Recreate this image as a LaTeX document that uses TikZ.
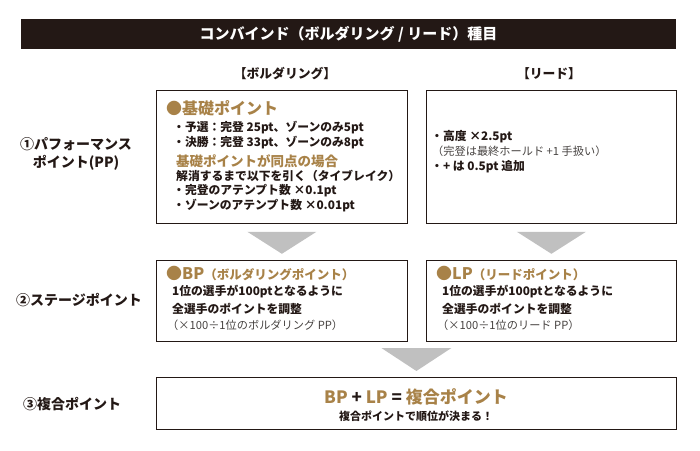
\documentclass[tikz,border=0pt]{standalone}
\usepackage{fontspec}
\setmainfont{Noto Sans CJK JP}
\usetikzlibrary{calc}
\usepackage{xcolor}
\definecolor{barbg}{HTML}{231815}
\definecolor{ink}{HTML}{231815}
\definecolor{gold}{RGB}{168,130,72}
\definecolor{softink}{RGB}{70,66,64}
\definecolor{arrowgray}{RGB}{192,192,192}
\newcommand{\pxsize}[2]{\fontsize{#1}{#2}\selectfont}

\begin{document}
\begin{tikzpicture}[x=1pt,y=-1pt,
    box/.style={draw=ink,line width=0.8pt,anchor=north west,inner sep=0pt},
    txt/.style={anchor=west,inner sep=0pt,text=ink,font=\bfseries\pxsize{11.8}{14}},
    soft/.style={anchor=west,inner sep=0pt,text=softink,font=\pxsize{11.2}{14}},
    gtitle/.style={anchor=west,inner sep=0pt,text=gold,font=\bfseries\pxsize{16}{18}},
    head/.style={inner sep=0pt,text=ink,font=\bfseries\pxsize{12.8}{15}},
    lbl/.style={inner sep=0pt,text=ink,align=center,font=\bfseries\pxsize{14}{18}},
    arrowtri/.style={fill=arrowgray}]

    \useasboundingbox (0,0) rectangle (700,450);

    % title bar and column heads
    \node[fill=barbg,text=white,minimum width=655pt,minimum height=30pt,inner sep=0pt,font=\bfseries\pxsize{15}{16}] (Ti) at (348.5,34) {コンバインド（ボルダリング / リード）種目};

    \node[head] (HdBo) at (285,74) {【ボルダリング】};
    \node[head] (HdLe) at (549,74) {【リード】};

    % row labels
    \node[lbl] (LbPP) at (76,154) {①パフォーマンス\\ポイント(PP)};
    \node[lbl] (LbSP) at (79,300) {②ステージポイント};
    \node[lbl] (LbCP) at (72,404) {③複合ポイント};

    % boxes
    \node[box,minimum width=251pt,minimum height=133pt] (BoPP) at (156,90) {};
    \node[box,minimum width=250pt,minimum height=133pt] (LePP) at (426,90) {};
    \node[box,minimum width=251pt,minimum height=81pt] (BoSP) at (156,260) {};
    \node[box,minimum width=250pt,minimum height=81pt] (LeSP) at (426,260) {};
    \node[box,minimum width=520pt,minimum height=52pt] (CoP) at (156,377) {};

    % bouldering PP
    \node[gtitle] (BaTi) at (166,108) {●基礎ポイント};
    \node[txt] (BaQu) at (173,128) {・予選：完登 25pt、ゾーンのみ5pt};
    \node[txt] (BaFi) at (173,143) {・決勝：完登 33pt、ゾーンのみ8pt};
    \node[gtitle,font=\bfseries\pxsize{13.5}{16}] (TiBr) at (176,161) {基礎ポイントが同点の場合};
    \node[txt] (TiSu) at (176,176) {解消するまで以下を引く（タイブレイク）};
    \node[txt] (TiTo) at (173,191) {・完登のアテンプト数 ×0.1pt};
    \node[txt] (TiZo) at (173,206) {・ゾーンのアテンプト数 ×0.01pt};

    % lead PP
    \node[txt] (LeHe) at (431,137) {・高度 ×2.5pt};
    \node[soft] (LeTo) at (432,151) {（完登は最終ホールド +1 手扱い）};
    \node[txt] (LePl) at (431,167) {・+ は 0.5pt 追加};

    % stage points
    \node[gtitle] (BPTi) at (166,273) {●BP{\pxsize{12.5}{15}（ボルダリングポイント）}};
    \node[txt] (BPOn) at (172,292) {1位の選手が100ptとなるように};
    \node[txt] (BPAd) at (172,309) {全選手のポイントを調整};
    \node[soft] (BPFo) at (167,325) {（×100÷1位のボルダリング PP）};

    \node[gtitle] (LPTi) at (436,273) {●LP{\pxsize{12.5}{15}（リードポイント）}};
    \node[txt] (LPOn) at (442,292) {1位の選手が100ptとなるように};
    \node[txt] (LPAd) at (442,309) {全選手のポイントを調整};
    \node[soft] (LPFo) at (437,325) {（×100÷1位のリード PP）};

    % combined
    \node[inner sep=0pt,text=ink,font=\bfseries\pxsize{17}{20}] (CoSu) at (416,397) {\textcolor{gold}{BP} + \textcolor{gold}{LP} = \textcolor{gold}{複合ポイント}};
    \node[inner sep=0pt,text=ink,font=\bfseries\pxsize{11}{14}] (CoRa) at (416,416) {複合ポイントで順位が決まる！};

    % gray arrows
    \fill[arrowtri] ($(BoPP.south)+(-34.5,8)$) -- ++(69,0) -- ++(-34.5,22) -- cycle;
    \fill[arrowtri] ($(LePP.south)+(-34.5,8)$) -- ++(69,0) -- ++(-34.5,22) -- cycle;
    \fill[arrowtri] ($(CoP.north)+(-35,-29)$) -- ++(70,0) -- ++(-35,23) -- cycle;

\end{tikzpicture}
\end{document}
